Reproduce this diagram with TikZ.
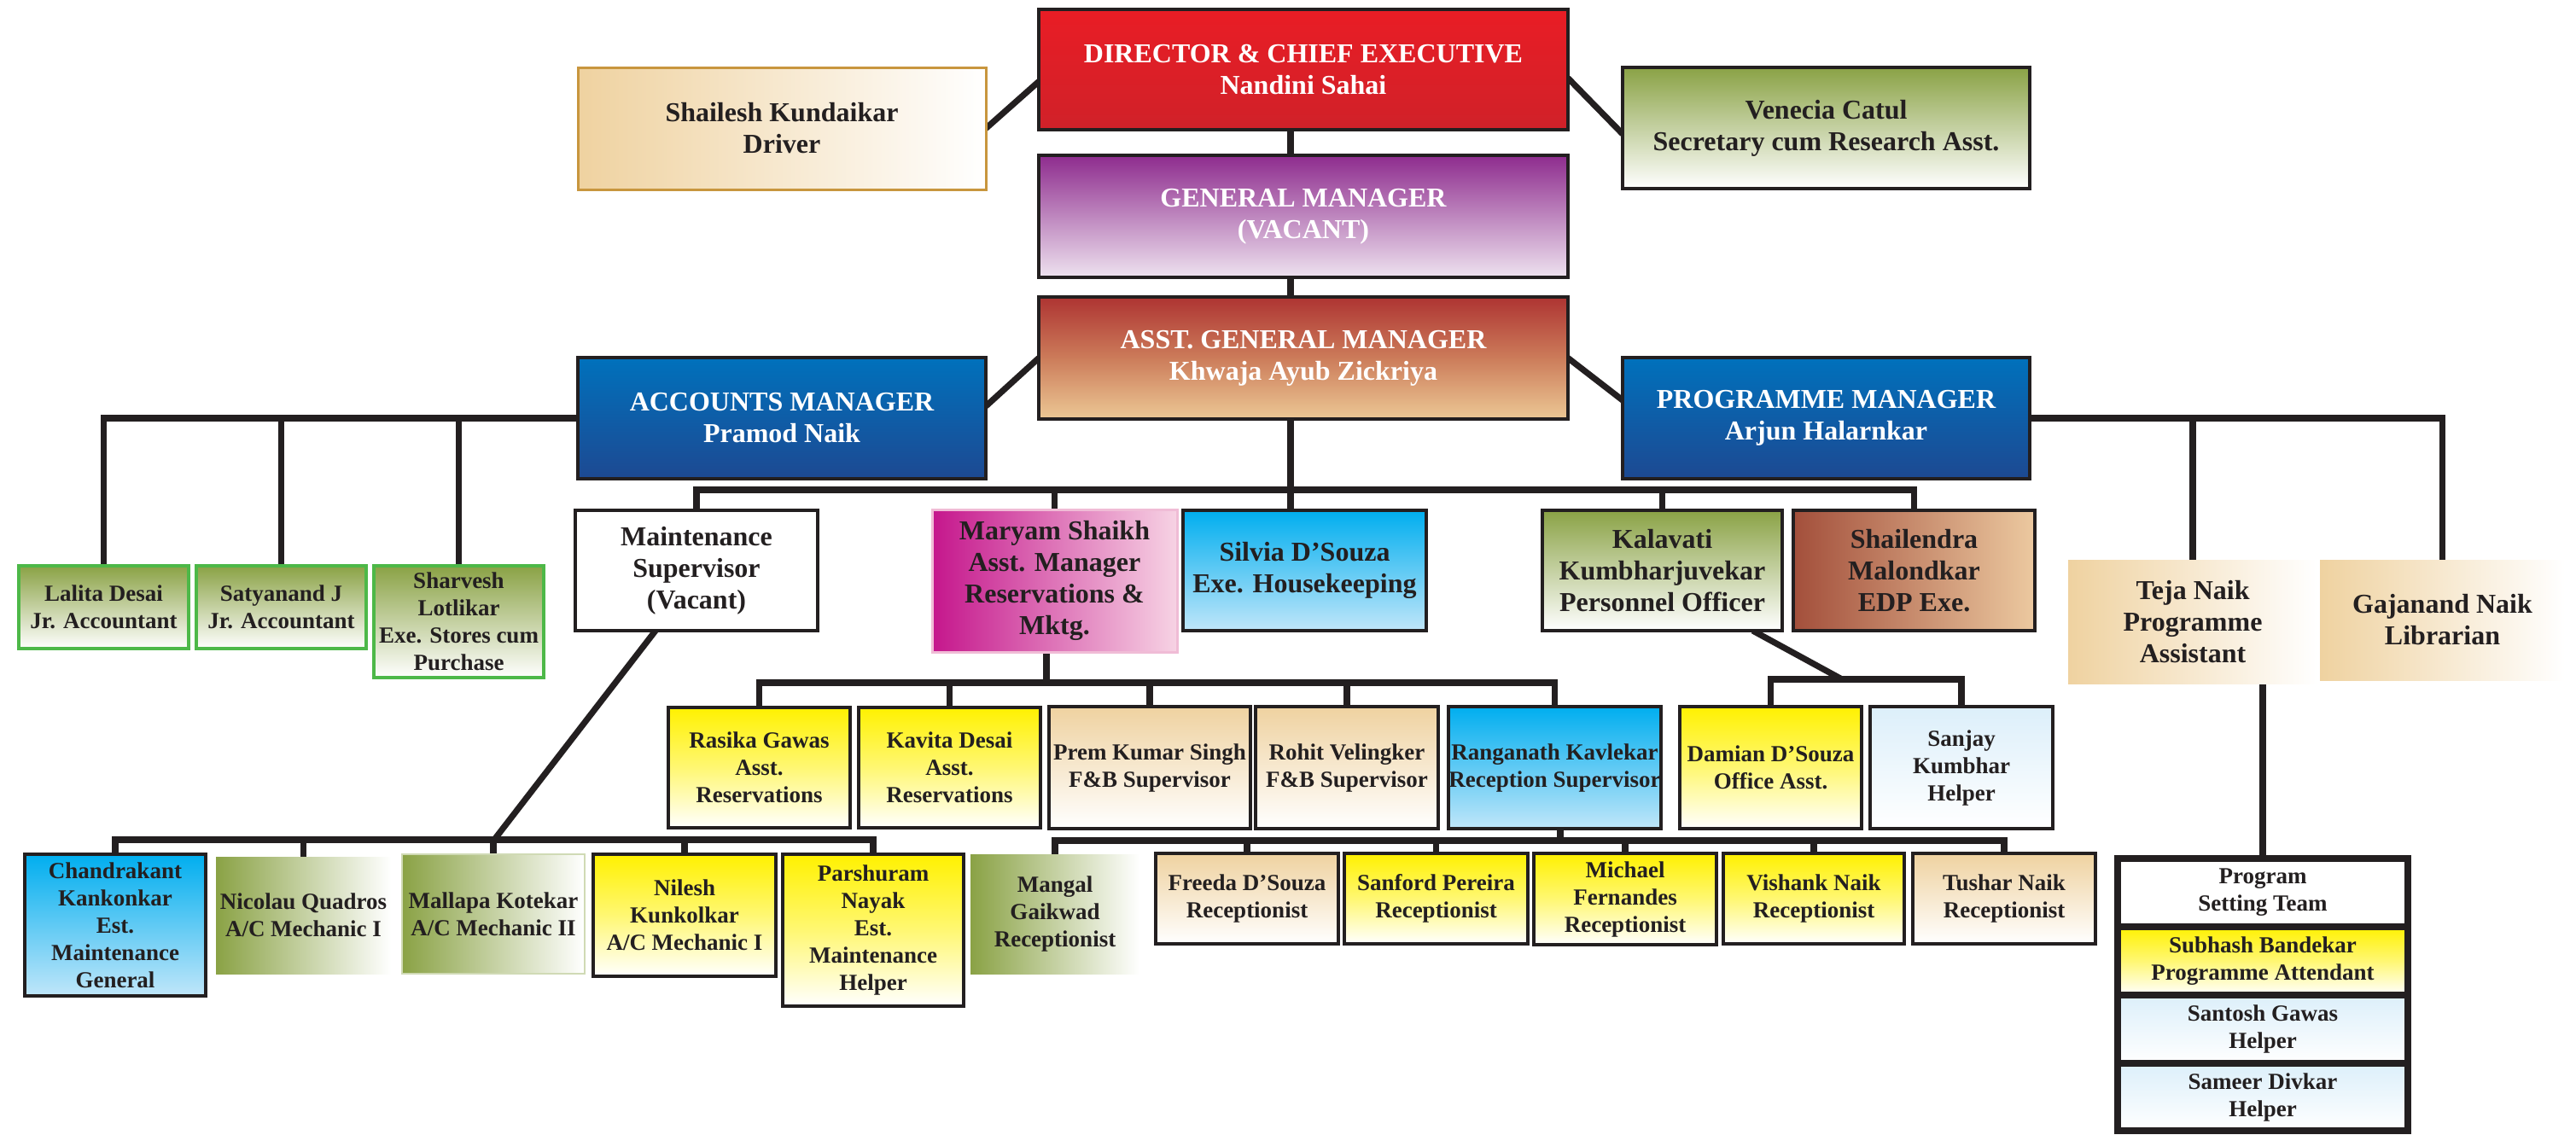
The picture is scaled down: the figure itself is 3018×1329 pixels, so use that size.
\documentclass[tikz,border=0pt]{standalone}
\usepackage{fontspec}
\setmainfont{Liberation Serif}
\usetikzlibrary{calc}
\definecolor{ink}{HTML}{231F20}
\definecolor{cRedT}{HTML}{E91D25}
\definecolor{cRedB}{HTML}{D02129}
\definecolor{cPurT}{HTML}{8E2C8E}
\definecolor{cPurB}{HTML}{EEE2EF}
\definecolor{cAgmT}{HTML}{AE3432}
\definecolor{cAgmM}{HTML}{CC7C5A}
\definecolor{cAgmB}{HTML}{ECC895}
\definecolor{cBluT}{HTML}{0071BC}
\definecolor{cBluB}{HTML}{1D4992}
\definecolor{cTan}{HTML}{EFD2A0}
\definecolor{cOlive}{HTML}{8AA245}
\definecolor{cYel}{HTML}{FFF100}
\definecolor{cCyan}{HTML}{00AEEF}
\definecolor{cCyanB}{HTML}{C0E6F9}
\definecolor{cLtBlue}{HTML}{DCEFFA}
\definecolor{cMag}{HTML}{C5168C}
\definecolor{cMagB}{HTML}{F7D3E4}
\definecolor{cMagBd}{HTML}{F0BCD6}
\definecolor{cBrown}{HTML}{A34F3B}
\definecolor{cBrownB}{HTML}{ECC9A0}
\definecolor{cGreenBd}{HTML}{4DB848}
\definecolor{cTanBd}{HTML}{C8963E}
\pgfdeclarelayer{bg}
\pgfsetlayers{bg,main}
\newcommand\bx[7]{%
  \pgfmathsetmacro\bxw{(#4-#2)*0.5}%
  \pgfmathsetmacro\bxh{(#5-#3)*0.5}%
  \node[#6, minimum width=\bxw pt, minimum height=\bxh pt] (#1) at ({(#2+#4)/2},{(#3+#5)/2}) {#7};}
\begin{document}
\begin{tikzpicture}[x=0.5pt,y=-0.5pt,
  box/.style={inner sep=0pt, outer sep=0pt, align=center, text=ink, draw=ink, line width=2pt,
    font=\bfseries\fontsize{13.5}{16}\selectfont},
  big/.style={font=\bfseries\fontsize{16}{18.5}\selectfont},
  wtext/.style={text=white},
  nobd/.style={draw=none},
  gred/.style={top color=cRedT, bottom color=cRedB},
  gpur/.style={top color=cPurT, bottom color=cPurB},
  gagm/.style={top color=cAgmT, bottom color=cAgmB, middle color=cAgmM},
  gblu/.style={top color=cBluT, bottom color=cBluB},
  gtanh/.style={left color=cTan, right color=white},
  gtanv/.style={top color=cTan, bottom color=white},
  golv/.style={top color=cOlive, bottom color=white},
  golh/.style={left color=cOlive, right color=white},
  gyel/.style={top color=cYel, bottom color=white, middle color=cYel!55},
  gcya/.style={top color=cCyan, bottom color=cCyanB},
  gltb/.style={top color=cLtBlue, bottom color=white},
  gmag/.style={left color=cMag, right color=cMagB},
  gbrn/.style={left color=cBrown, right color=cBrownB},
  conn/.style={draw=ink, line width=3.6pt, line join=miter}]
\useasboundingbox (0,0) rectangle (3018,1329);
% top levels
\bx{dir}{1217}{11}{1837}{152}{box,big,gred,wtext}{DIRECTOR \& CHIEF EXECUTIVE\\Nandini Sahai}
\bx{shail}{677}{79}{1155}{222}{box,big,gtanh,draw=cTanBd,line width=1.5pt}{Shailesh Kundaikar\\Driver}
\bx{ven}{1901}{79}{2378}{221}{box,big,golv}{Venecia Catul\\Secretary cum Research Asst.}
\bx{gm}{1217}{182}{1837}{325}{box,big,gpur,wtext}{GENERAL MANAGER\\(VACANT)}
\bx{agm}{1217}{348}{1837}{491}{box,big,gagm,wtext}{ASST. GENERAL MANAGER\\Khwaja Ayub Zickriya}
\bx{acc}{677}{419}{1155}{561}{box,big,gblu,wtext}{ACCOUNTS MANAGER\\Pramod Naik}
\bx{prog}{1901}{419}{2378}{561}{box,big,gblu,wtext}{PROGRAMME MANAGER\\Arjun Halarnkar}
% accounts staff
\bx{lalita}{22}{663}{221}{760}{box,golv,draw=cGreenBd}{Lalita Desai\\Jr. Accountant}
\bx{satya}{230}{663}{429}{760}{box,golv,draw=cGreenBd}{Satyanand J\\Jr. Accountant}
\bx{sharv}{438}{663}{637}{794}{box,golv,draw=cGreenBd}{Sharvesh\\Lotlikar\\Exe. Stores cum\\Purchase}
% second level
\bx{maint}{674}{598}{958}{739}{box,big,fill=white}{Maintenance\\Supervisor\\(Vacant)}
\bx{maryam}{1092}{597}{1379}{764}{box,big,gmag,draw=cMagBd,line width=1.5pt}{Maryam Shaikh\\Asst. Manager\\Reservations \&\\Mktg.}
\bx{silvia}{1386}{598}{1671}{739}{box,big,gcya}{Silvia D’Souza\\Exe. Housekeeping}
\bx{kala}{1807}{598}{2088}{739}{box,big,golv}{Kalavati\\Kumbharjuvekar\\Personnel Officer}
\bx{shaile}{2101}{598}{2384}{739}{box,big,gbrn}{Shailendra\\Malondkar\\EDP Exe.}
\bx{teja}{2423}{656}{2715}{801}{box,big,gtanh,nobd}{Teja Naik\\Programme\\Assistant}
\bx{gaja}{2718}{656}{3005}{797}{box,big,gtanh,nobd}{Gajanand Naik\\Librarian}
% third level
\bx{rasika}{783}{829}{996}{970}{box,gyel}{Rasika Gawas\\Asst.\\Reservations}
\bx{kavita}{1006}{829}{1219}{970}{box,gyel}{Kavita Desai\\Asst.\\Reservations}
\bx{prem}{1229}{828}{1465}{971}{box,gtanv}{Prem Kumar Singh\\F\&B Supervisor}
\bx{rohit}{1471}{828}{1685}{971}{box,gtanv}{Rohit Velingker\\F\&B Supervisor}
\bx{rangan}{1697}{828}{1946}{971}{box,gcya}{Ranganath Kavlekar\\Reception Supervisor}
\bx{damian}{1968}{828}{2181}{971}{box,gyel}{Damian D’Souza\\Office Asst.}
\bx{sanjay}{2191}{828}{2405}{971}{box,gltb}{Sanjay\\Kumbhar\\Helper}
% fourth level
\bx{chandra}{29}{1001}{241}{1167}{box,gcya}{Chandrakant\\Kankonkar\\Est.\\Maintenance\\General}
\bx{nicolau}{253}{1004}{458}{1141}{box,golh,nobd}{Nicolau Quadros\\A/C Mechanic I}
\bx{mallapa}{471}{1001}{685}{1141}{box,golh,draw=cOlive!40,line width=1pt}{Mallapa Kotekar\\A/C Mechanic II}
\bx{nilesh}{695}{1001}{909}{1144}{box,gyel}{Nilesh\\Kunkolkar\\A/C Mechanic I}
\bx{parsh}{917}{1001}{1129}{1179}{box,gyel}{Parshuram\\Nayak\\Est.\\Maintenance\\Helper}
\bx{mangal}{1137}{1001}{1335}{1141}{box,golh,nobd}{Mangal\\Gaikwad\\Receptionist}
\bx{freeda}{1354}{1000}{1568}{1106}{box,gtanv}{Freeda D’Souza\\Receptionist}
\bx{sanford}{1575}{1000}{1790}{1106}{box,gyel}{Sanford Pereira\\Receptionist}
\bx{michael}{1797}{1000}{2011}{1107}{box,gyel}{Michael\\Fernandes\\Receptionist}
\bx{vishank}{2019}{1000}{2231}{1106}{box,gyel}{Vishank Naik\\Receptionist}
\bx{tushar}{2241}{1000}{2455}{1106}{box,gtanv}{Tushar Naik\\Receptionist}
% programme setting team stack
\bx{pst}{2481}{1006}{2821}{1086}{box,fill=white,line width=3.6pt}{Program\\Setting Team}
\bx{subhash}{2481}{1086}{2821}{1166}{box,gyel,line width=3.6pt}{Subhash Bandekar\\Programme Attendant}
\bx{santosh}{2481}{1166}{2821}{1246}{box,gltb,line width=3.6pt}{Santosh Gawas\\Helper}
\bx{sameer}{2481}{1246}{2821}{1325}{box,gltb,line width=3.6pt}{Sameer Divkar\\Helper}
% connectors
\coordinate (spine) at (1512,574);
\coordinate (mb) at (579,984);
\coordinate (rq) at (1226,800);
\coordinate (kq) at (2158,796);
\coordinate (gq) at (1828,985);
\begin{pgfonlayer}{bg}
\draw[conn] (dir.south -| spine) -- (gm.north -| spine);
\draw[conn] (gm.south -| spine) -- (agm.north -| spine);
\draw[conn] (agm.south -| spine) -- (spine);
\draw[conn] (maint.north) |- (spine) -| (shaile.north);
\draw[conn] (spine) -- (spine |- silvia.north);
\draw[conn] (maryam.north) -- (maryam.north |- spine);
\draw[conn] (kala.north) -- (kala.north |- spine);
\draw[conn] (shail.east) -- ($(dir.west)+(0,14)$);
\draw[conn] ($(dir.east)+(0,10)$) -- ($(ven.west)+(0,7)$);
\draw[conn] ($(acc.east)+(0,-14)$) -- (agm.west);
\draw[conn] (agm.east) -- ($(prog.west)+(0,-21)$);
\draw[conn] (acc.west) -| (lalita.north);
\draw[conn] (satya.north) -- (satya.north |- acc.west);
\draw[conn] (sharv.north) -- (sharv.north |- acc.west);
\draw[conn] (prog.east) -| (gaja.north);
\draw[conn] (teja.north) -- (teja.north |- prog.east);
\draw[conn] ($(maint.south)+(-48,0)$) -- (mb);
\draw[conn] (chandra.north) |- (mb) -| (parsh.north);
\draw[conn] (nicolau.north) -- (nicolau.north |- mb);
\draw[conn] (mallapa.north) -- (mallapa.north |- mb);
\draw[conn] (nilesh.north) -- (nilesh.north |- mb);
\draw[conn] (maryam.south -| rq) -- (rq);
\draw[conn] (rasika.north) |- (rq) -| (rangan.north);
\draw[conn] (kavita.north) -- (kavita.north |- rq);
\draw[conn] (prem.north) -- (prem.north |- rq);
\draw[conn] (rohit.north) -- (rohit.north |- rq);
\draw[conn] ($(kala.south)+(106,0)$) -- (kq);
\draw[conn] (damian.north) |- (kq) -| (sanjay.north);
\draw[conn] (rangan.south -| gq) -- (gq);
\draw[conn] (mangal.north) |- (gq) -| (tushar.north);
\draw[conn] (freeda.north) -- (freeda.north |- gq);
\draw[conn] (sanford.north) -- (sanford.north |- gq);
\draw[conn] (michael.north) -- (michael.north |- gq);
\draw[conn] (vishank.north) -- (vishank.north |- gq);
\draw[conn] (pst.north) -- (pst.north |- teja.south);
\end{pgfonlayer}
\end{tikzpicture}
\end{document}
